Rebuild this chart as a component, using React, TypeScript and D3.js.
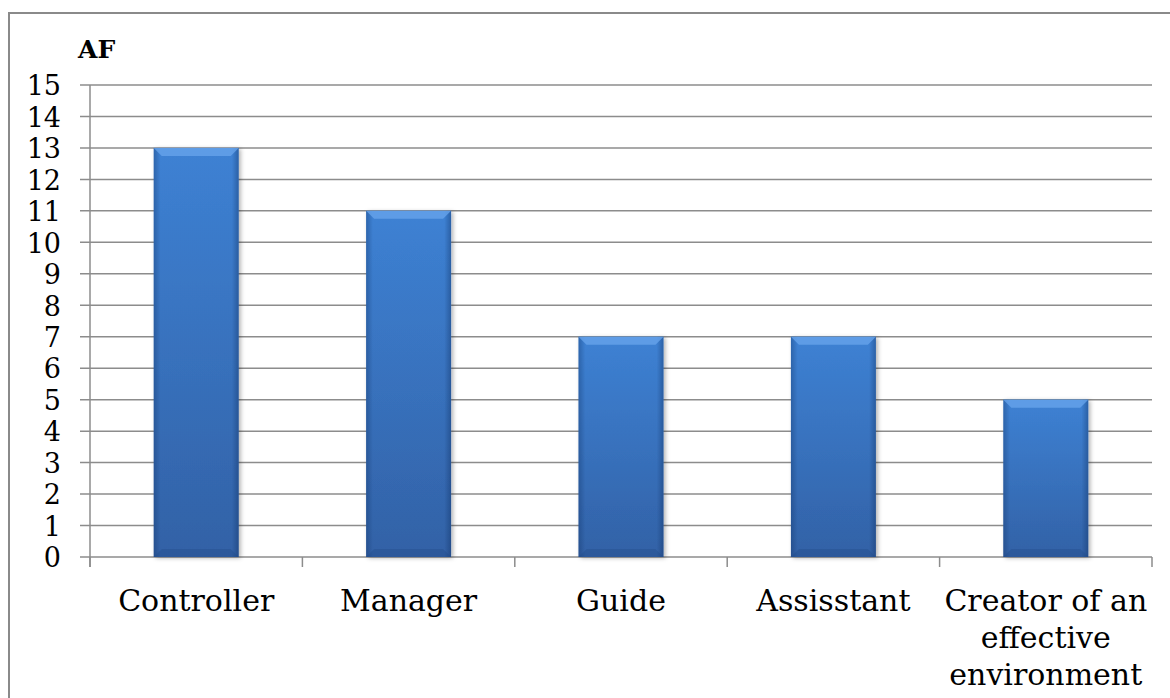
import { useEffect, useRef } from "react";
import * as d3 from "d3";

const categories = ["Controller", "Manager", "Guide", "Assisstant", "Creator of an effective environment"];
const labelLines = [["Controller"], ["Manager"], ["Guide"], ["Assisstant"], ["Creator of an", "effective", "environment"]];
const values = [13, 11, 7, 7, 5];
const yTicks = d3.range(0, 16);
const yTitle = "AF";

export default function App() {
  const svgRef = useRef<SVGSVGElement>(null);

  useEffect(() => {
    if (!svgRef.current) return;
    const W = 1170, H = 698;
    const margin = { top: 85, right: 18, bottom: 141, left: 90 };
    const innerW = W - margin.left - margin.right;
    const innerH = H - margin.top - margin.bottom;
    const font = "'DejaVu Serif', Georgia, serif";
    const gridColor = "#8c8c8c";

    const root = d3.select(svgRef.current);
    root.selectAll("*").remove();

    const defs = root.append("defs");
    const vg = defs.append("linearGradient").attr("id", "bar-v").attr("x1", 0).attr("y1", 0).attr("x2", 0).attr("y2", 1);
    vg.append("stop").attr("offset", "0%").attr("stop-color", "#4086da");
    vg.append("stop").attr("offset", "100%").attr("stop-color", "#3464aa");
    const hg = defs.append("linearGradient").attr("id", "bar-h").attr("x1", 0).attr("y1", 0).attr("x2", 1).attr("y2", 0);
    hg.append("stop").attr("offset", "0%").attr("stop-color", "#0b2a5a").attr("stop-opacity", 0.35);
    hg.append("stop").attr("offset", "8%").attr("stop-color", "#0b2a5a").attr("stop-opacity", 0.05);
    hg.append("stop").attr("offset", "92%").attr("stop-color", "#0b2a5a").attr("stop-opacity", 0.05);
    hg.append("stop").attr("offset", "100%").attr("stop-color", "#0b2a5a").attr("stop-opacity", 0.4);
    const sh = defs.append("filter").attr("id", "bar-shadow").attr("x", "-20%").attr("y", "-5%").attr("width", "140%").attr("height", "110%");
    sh.append("feDropShadow").attr("dx", 2).attr("dy", 1).attr("stdDeviation", 2).attr("flood-color", "#000").attr("flood-opacity", 0.3);

    // outer frame
    root.append("rect")
      .attr("x", 9).attr("y", 13).attr("width", 1300).attr("height", 900)
      .attr("fill", "#fff").attr("stroke", "#8a8a8a").attr("stroke-width", 2);

    const g = root.append("g").attr("transform", `translate(${margin.left},${margin.top})`);

    const x = d3.scaleBand().domain(categories).range([0, innerW]).paddingInner(0.6).paddingOuter(0.3);
    const xOuter = d3.scaleBand().domain(categories).range([0, innerW]);
    const y = d3.scaleLinear().domain([0, 15]).range([innerH, 0]);

    // gridlines + y ticks
    g.selectAll(".grid").data(yTicks).enter().append("line")
      .attr("x1", -10).attr("x2", innerW)
      .attr("y1", d => y(d)).attr("y2", d => y(d))
      .attr("stroke", gridColor).attr("stroke-width", 1.5);

    g.append("line").attr("x1", 0).attr("x2", 0).attr("y1", 0).attr("y2", innerH + 10)
      .attr("stroke", gridColor).attr("stroke-width", 1.5);

    // x boundary ticks
    const bounds = categories.map(c => xOuter(c)!).concat([innerW]);
    g.selectAll(".xt").data(bounds).enter().append("line")
      .attr("x1", d => d).attr("x2", d => d).attr("y1", innerH).attr("y2", innerH + 10)
      .attr("stroke", gridColor).attr("stroke-width", 1.5);

    g.selectAll(".yl").data(yTicks).enter().append("text")
      .attr("x", -29).attr("y", d => y(d)).attr("dy", "0.38em")
      .attr("text-anchor", "end")
      .style("font-family", font).style("font-size", "27px").attr("fill", "#000")
      .text(d => String(d));

    root.append("text").attr("x", 78).attr("y", 58)
      .style("font-family", font).style("font-size", "25px").style("font-weight", "bold")
      .text(yTitle);

    // bars
    const bars = g.selectAll(".bar").data(values).enter().append("g")
      .attr("transform", (d, i) => `translate(${x(categories[i])},${y(d)})`);
    const bw = x.bandwidth();
    bars.append("rect").attr("width", bw).attr("height", d => innerH - y(d))
      .attr("fill", "url(#bar-v)").attr("filter", "url(#bar-shadow)");
    bars.append("rect").attr("width", bw).attr("height", d => innerH - y(d))
      .attr("fill", "url(#bar-h)");
    const bev = 8;
    bars.append("path")
      .attr("d", `M0,0 L${bw},0 L${bw - bev},${bev} L${bev},${bev} Z`)
      .attr("fill", "#6aa6ec").attr("opacity", 0.75);
    bars.append("path")
      .attr("d", d => { const h = innerH - y(d); return `M0,${h} L${bw},${h} L${bw - bev},${h - bev} L${bev},${h - bev} Z`; })
      .attr("fill", "#1f4b88").attr("opacity", 0.35);

    // category labels
    const lbl = g.selectAll(".cl").data(labelLines).enter().append("text")
      .attr("text-anchor", "middle")
      .style("font-family", font).style("font-size", "30px").attr("fill", "#000");
    lbl.each(function (lines, i) {
      const t = d3.select(this);
      const cx = xOuter(categories[i])! + xOuter.bandwidth() / 2;
      lines.forEach((ln, j) => {
        t.append("tspan").attr("x", cx).attr("y", innerH + 54 + j * 37).text(ln);
      });
    });
  }, []);

  return (
    <svg ref={svgRef} width={1170} height={698}
      style={{ position: "absolute", left: 0, top: 0, background: "#fff" }} />
  );
}
